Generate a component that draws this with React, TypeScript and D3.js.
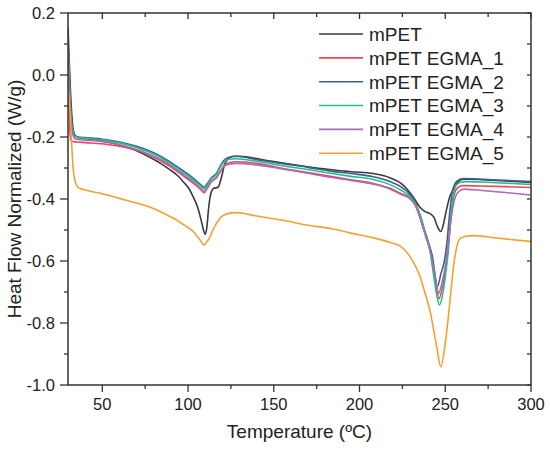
import { scaleLinear, line as d3Line, curveMonotoneX } from "d3"

type Pt = [number, number]

// temperature (ºC), heat flow (W/g)
const mPET: Pt[] = [
  [30, 0.155], [30.6, 0.06], [31.5, -0.06], [32.5, -0.15], [33.5, -0.188], [35, -0.2], [40, -0.205], [50, -0.213],
  [60, -0.226], [70, -0.244], [78, -0.266], [84, -0.285], [89.5, -0.306], [94, -0.325], [97.5, -0.346], [100.5, -0.366],
  [103, -0.393], [105.5, -0.425], [107.5, -0.465], [109, -0.5], [110, -0.514], [111, -0.49], [112, -0.43], [113, -0.39],
  [114.8, -0.366], [117.5, -0.362], [119.5, -0.33], [121, -0.295], [123, -0.272], [126, -0.263], [130, -0.262],
  [145, -0.275], [160, -0.288], [175, -0.3], [183, -0.305], [195, -0.312], [208, -0.318], [218, -0.332], [224, -0.349],
  [228, -0.37], [231.5, -0.395], [235, -0.425], [238, -0.44], [241, -0.447], [243.5, -0.46], [245.5, -0.49],
  [247.4, -0.505], [249, -0.48], [250.5, -0.44], [252.5, -0.395], [254.8, -0.368], [257, -0.347], [260.5, -0.336],
  [270, -0.337], [285, -0.342], [300, -0.347],
]

const egma1: Pt[] = [
  [30, 0.05], [30.5, -0.08], [31.2, -0.19], [32, -0.214], [35, -0.216], [40, -0.218], [50, -0.222], [60, -0.23],
  [70, -0.243], [78, -0.26], [85, -0.28], [93, -0.308], [100, -0.337], [105, -0.358], [108, -0.373], [109.3, -0.38],
  [111, -0.368], [113.5, -0.345], [116.5, -0.332], [119, -0.31], [121, -0.292], [124, -0.283], [128, -0.28],
  [140, -0.285], [154, -0.3], [170, -0.315], [183, -0.327], [195, -0.338], [208, -0.35], [217, -0.364], [224, -0.382],
  [229.5, -0.398], [232.5, -0.42], [235, -0.455], [237.5, -0.5], [239.2, -0.522], [241.5, -0.57], [244, -0.65],
  [246.3, -0.722], [248.5, -0.68], [250.5, -0.61], [252, -0.54], [253.5, -0.45], [255, -0.39], [257, -0.365],
  [260, -0.357], [270, -0.358], [285, -0.36], [300, -0.363],
]

const egma2: Pt[] = [
  [30, 0.12], [30.6, 0.02], [31.5, -0.1], [32.5, -0.17], [34, -0.196], [36, -0.2], [40, -0.202], [50, -0.207],
  [60, -0.216], [70, -0.23], [78, -0.246], [85, -0.265], [93, -0.293], [100, -0.32], [105, -0.342], [108, -0.357],
  [109.3, -0.362], [111, -0.352], [113.5, -0.332], [116.5, -0.318], [119, -0.292], [121, -0.275], [124, -0.265],
  [128, -0.262], [140, -0.273], [154, -0.285], [170, -0.298], [183, -0.31], [195, -0.318], [208, -0.328], [217, -0.342],
  [224, -0.36], [229.5, -0.386], [233, -0.418], [236, -0.465], [239.5, -0.53], [242.5, -0.585], [245.4, -0.683],
  [247.5, -0.64], [249.5, -0.6], [251, -0.54], [252.5, -0.45], [254, -0.38], [255.5, -0.352], [258, -0.338],
  [261, -0.334], [270, -0.336], [285, -0.34], [300, -0.344],
]

const egma3: Pt[] = [
  [30, 0.1], [30.6, 0.0], [31.5, -0.11], [32.5, -0.175], [34, -0.198], [36, -0.202], [40, -0.204], [50, -0.21],
  [60, -0.219], [70, -0.234], [78, -0.25], [85, -0.27], [93, -0.298], [100, -0.326], [105, -0.347], [108, -0.362],
  [109.3, -0.368], [111, -0.357], [113.5, -0.335], [116.5, -0.322], [119, -0.295], [121, -0.28], [124, -0.272],
  [128, -0.27], [140, -0.278], [154, -0.292], [170, -0.305], [183, -0.317], [195, -0.327], [208, -0.337], [217, -0.352],
  [224, -0.371], [229, -0.39], [232, -0.41], [234.5, -0.44], [236.3, -0.468], [238.5, -0.52], [241, -0.565],
  [243.9, -0.672], [246.6, -0.742], [248.9, -0.694], [250.5, -0.63], [251.8, -0.565], [253.2, -0.46], [254.8, -0.385],
  [256.5, -0.355], [259, -0.346], [262, -0.344], [270, -0.345], [285, -0.349], [300, -0.353],
]

const egma4: Pt[] = [
  [30, 0.08], [30.6, -0.03], [31.5, -0.13], [32.5, -0.185], [34, -0.205], [36, -0.208], [40, -0.21], [50, -0.215],
  [60, -0.225], [70, -0.24], [78, -0.257], [85, -0.276], [93, -0.304], [100, -0.333], [105, -0.354], [108, -0.37],
  [109.3, -0.376], [111, -0.365], [113.5, -0.343], [116.5, -0.33], [119, -0.31], [121, -0.295], [124, -0.288],
  [128, -0.285], [140, -0.29], [154, -0.302], [170, -0.317], [183, -0.33], [195, -0.34], [208, -0.352], [217, -0.366],
  [224, -0.385], [229.5, -0.4], [232.5, -0.42], [235, -0.455], [237.5, -0.5], [240, -0.54], [242.5, -0.6],
  [244.5, -0.66], [246, -0.705], [248.5, -0.66], [250.5, -0.6], [252, -0.53], [253.5, -0.46], [255.5, -0.4],
  [258, -0.375], [261, -0.368], [270, -0.372], [285, -0.379], [300, -0.387],
]

const egma5: Pt[] = [
  [30, -0.04], [31, -0.1], [32, -0.21], [33, -0.3], [34, -0.34], [35.5, -0.36], [37, -0.366], [40, -0.371],
  [50, -0.383], [60, -0.398], [70, -0.413], [78, -0.427], [86, -0.447], [93.4, -0.468], [98, -0.485], [103, -0.505],
  [107, -0.532], [109.3, -0.548], [111, -0.538], [112.8, -0.522], [114.5, -0.5], [116.7, -0.478], [119, -0.46],
  [122.6, -0.448], [128.4, -0.444], [140, -0.455], [155, -0.468], [169, -0.484], [183, -0.495], [195, -0.51],
  [208, -0.525], [218, -0.54], [224, -0.553], [229.5, -0.586], [232.5, -0.615], [235.3, -0.65], [238, -0.7],
  [241, -0.758], [245, -0.876], [247.4, -0.941], [250, -0.866], [252.8, -0.726], [254.8, -0.618], [256.3, -0.565],
  [258.7, -0.527], [262, -0.52], [266, -0.518], [280, -0.526], [300, -0.537],
]

const seriesNames = ["mPET", "mPET EGMA_1", "mPET EGMA_2", "mPET EGMA_3", "mPET EGMA_4", "mPET EGMA_5"]
const seriesData = [mPET, egma1, egma2, egma3, egma4, egma5]
const seriesColors = ["#3b3b3b", "#f2435b", "#3f5f93", "#1ec285", "#a96cb5", "#f3a133"]

const xMajorTicks = [50, 100, 150, 200, 250, 300]
const xMinorTicks = [75, 125, 175, 225, 275]
const yMajorTicks = [0.2, 0.0, -0.2, -0.4, -0.6, -0.8, -1.0]
const yMinorTicks = [0.1, -0.1, -0.3, -0.5, -0.7, -0.9]

const W = 550
const H = 450
const margin = { top: 13, right: 19, bottom: 65, left: 68 }
const font = "'Liberation Sans', Arial, Helvetica, sans-serif"
const axisColor = "#333"

export default function App() {
  const innerW = W - margin.left - margin.right
  const innerH = H - margin.top - margin.bottom

  const x = scaleLinear().domain([30, 300]).range([0, innerW])
  const y = scaleLinear().domain([-1.0, 0.2]).range([innerH, 0])

  const lineGen = d3Line<Pt>()
    .x((d) => x(d[0]))
    .y((d) => y(d[1]))
    .curve(curveMonotoneX)

  const legendX = 319 - margin.left
  const legendY0 = 34 - margin.top
  const legendStep = 23.85

  return (
    <svg width={W} height={H} style={{ position: "absolute", left: 0, top: 0, background: "#fff" }} fontFamily={font}>
      <g transform={`translate(${margin.left},${margin.top})`}>
        <defs>
          <clipPath id="plot-clip">
            <rect x={0} y={0} width={innerW} height={innerH} />
          </clipPath>
        </defs>

        <g clipPath="url(#plot-clip)">
          {seriesData.map((data, i) => (
            <path key={seriesNames[i]} d={lineGen(data) ?? ""} fill="none" stroke={seriesColors[i]} strokeWidth={1.6} strokeLinejoin="round" />
          ))}
        </g>

        {/* frame */}
        <rect x={0} y={0} width={innerW} height={innerH} fill="none" stroke={axisColor} strokeWidth={1.5} />

        {/* bottom + top ticks */}
        {xMajorTicks.map((t) => (
          <g key={`xM${t}`}>
            <line x1={x(t)} x2={x(t)} y1={innerH} y2={innerH + 7} stroke={axisColor} strokeWidth={1.3} />
            <line x1={x(t)} x2={x(t)} y1={0} y2={6} stroke={axisColor} strokeWidth={1.3} />
            <text x={x(t)} y={innerH + 25} textAnchor="middle" fontSize={16.5} fill="#222">{t}</text>
          </g>
        ))}
        {xMinorTicks.map((t) => (
          <g key={`xm${t}`}>
            <line x1={x(t)} x2={x(t)} y1={innerH} y2={innerH + 4} stroke={axisColor} strokeWidth={1.3} />
            <line x1={x(t)} x2={x(t)} y1={0} y2={4} stroke={axisColor} strokeWidth={1.3} />
          </g>
        ))}

        {/* left + right ticks */}
        {yMajorTicks.map((t) => (
          <g key={`yM${t}`}>
            <line x1={-8} x2={0} y1={y(t)} y2={y(t)} stroke={axisColor} strokeWidth={1.3} />
            <line x1={innerW - 4} x2={innerW} y1={y(t)} y2={y(t)} stroke={axisColor} strokeWidth={1.3} />
            <text x={-13} y={y(t)} dy="0.35em" textAnchor="end" fontSize={16.5} fill="#222">{t.toFixed(1)}</text>
          </g>
        ))}
        {yMinorTicks.map((t) => (
          <g key={`ym${t}`}>
            <line x1={-4} x2={0} y1={y(t)} y2={y(t)} stroke={axisColor} strokeWidth={1.3} />
            <line x1={innerW - 4} x2={innerW} y1={y(t)} y2={y(t)} stroke={axisColor} strokeWidth={1.3} />
          </g>
        ))}

        <text x={innerW / 2} y={innerH + 53} textAnchor="middle" fontSize={19} fill="#222">Temperature (ºC)</text>
        <text transform={`translate(${21 - margin.left},${innerH / 2}) rotate(-90)`} textAnchor="middle" fontSize={19} fill="#222">
          Heat Flow Normalized (W/g)
        </text>

        {/* legend */}
        {seriesNames.map((name, i) => (
          <g key={`lg${name}`} transform={`translate(${legendX},${legendY0 + i * legendStep})`}>
            <line x1={0} x2={44} y1={0} y2={0} stroke={seriesColors[i]} strokeWidth={1.6} />
            <text x={50} y={0} dy="0.36em" fontSize={19} fill="#222">{name}</text>
          </g>
        ))}
      </g>
    </svg>
  )
}
